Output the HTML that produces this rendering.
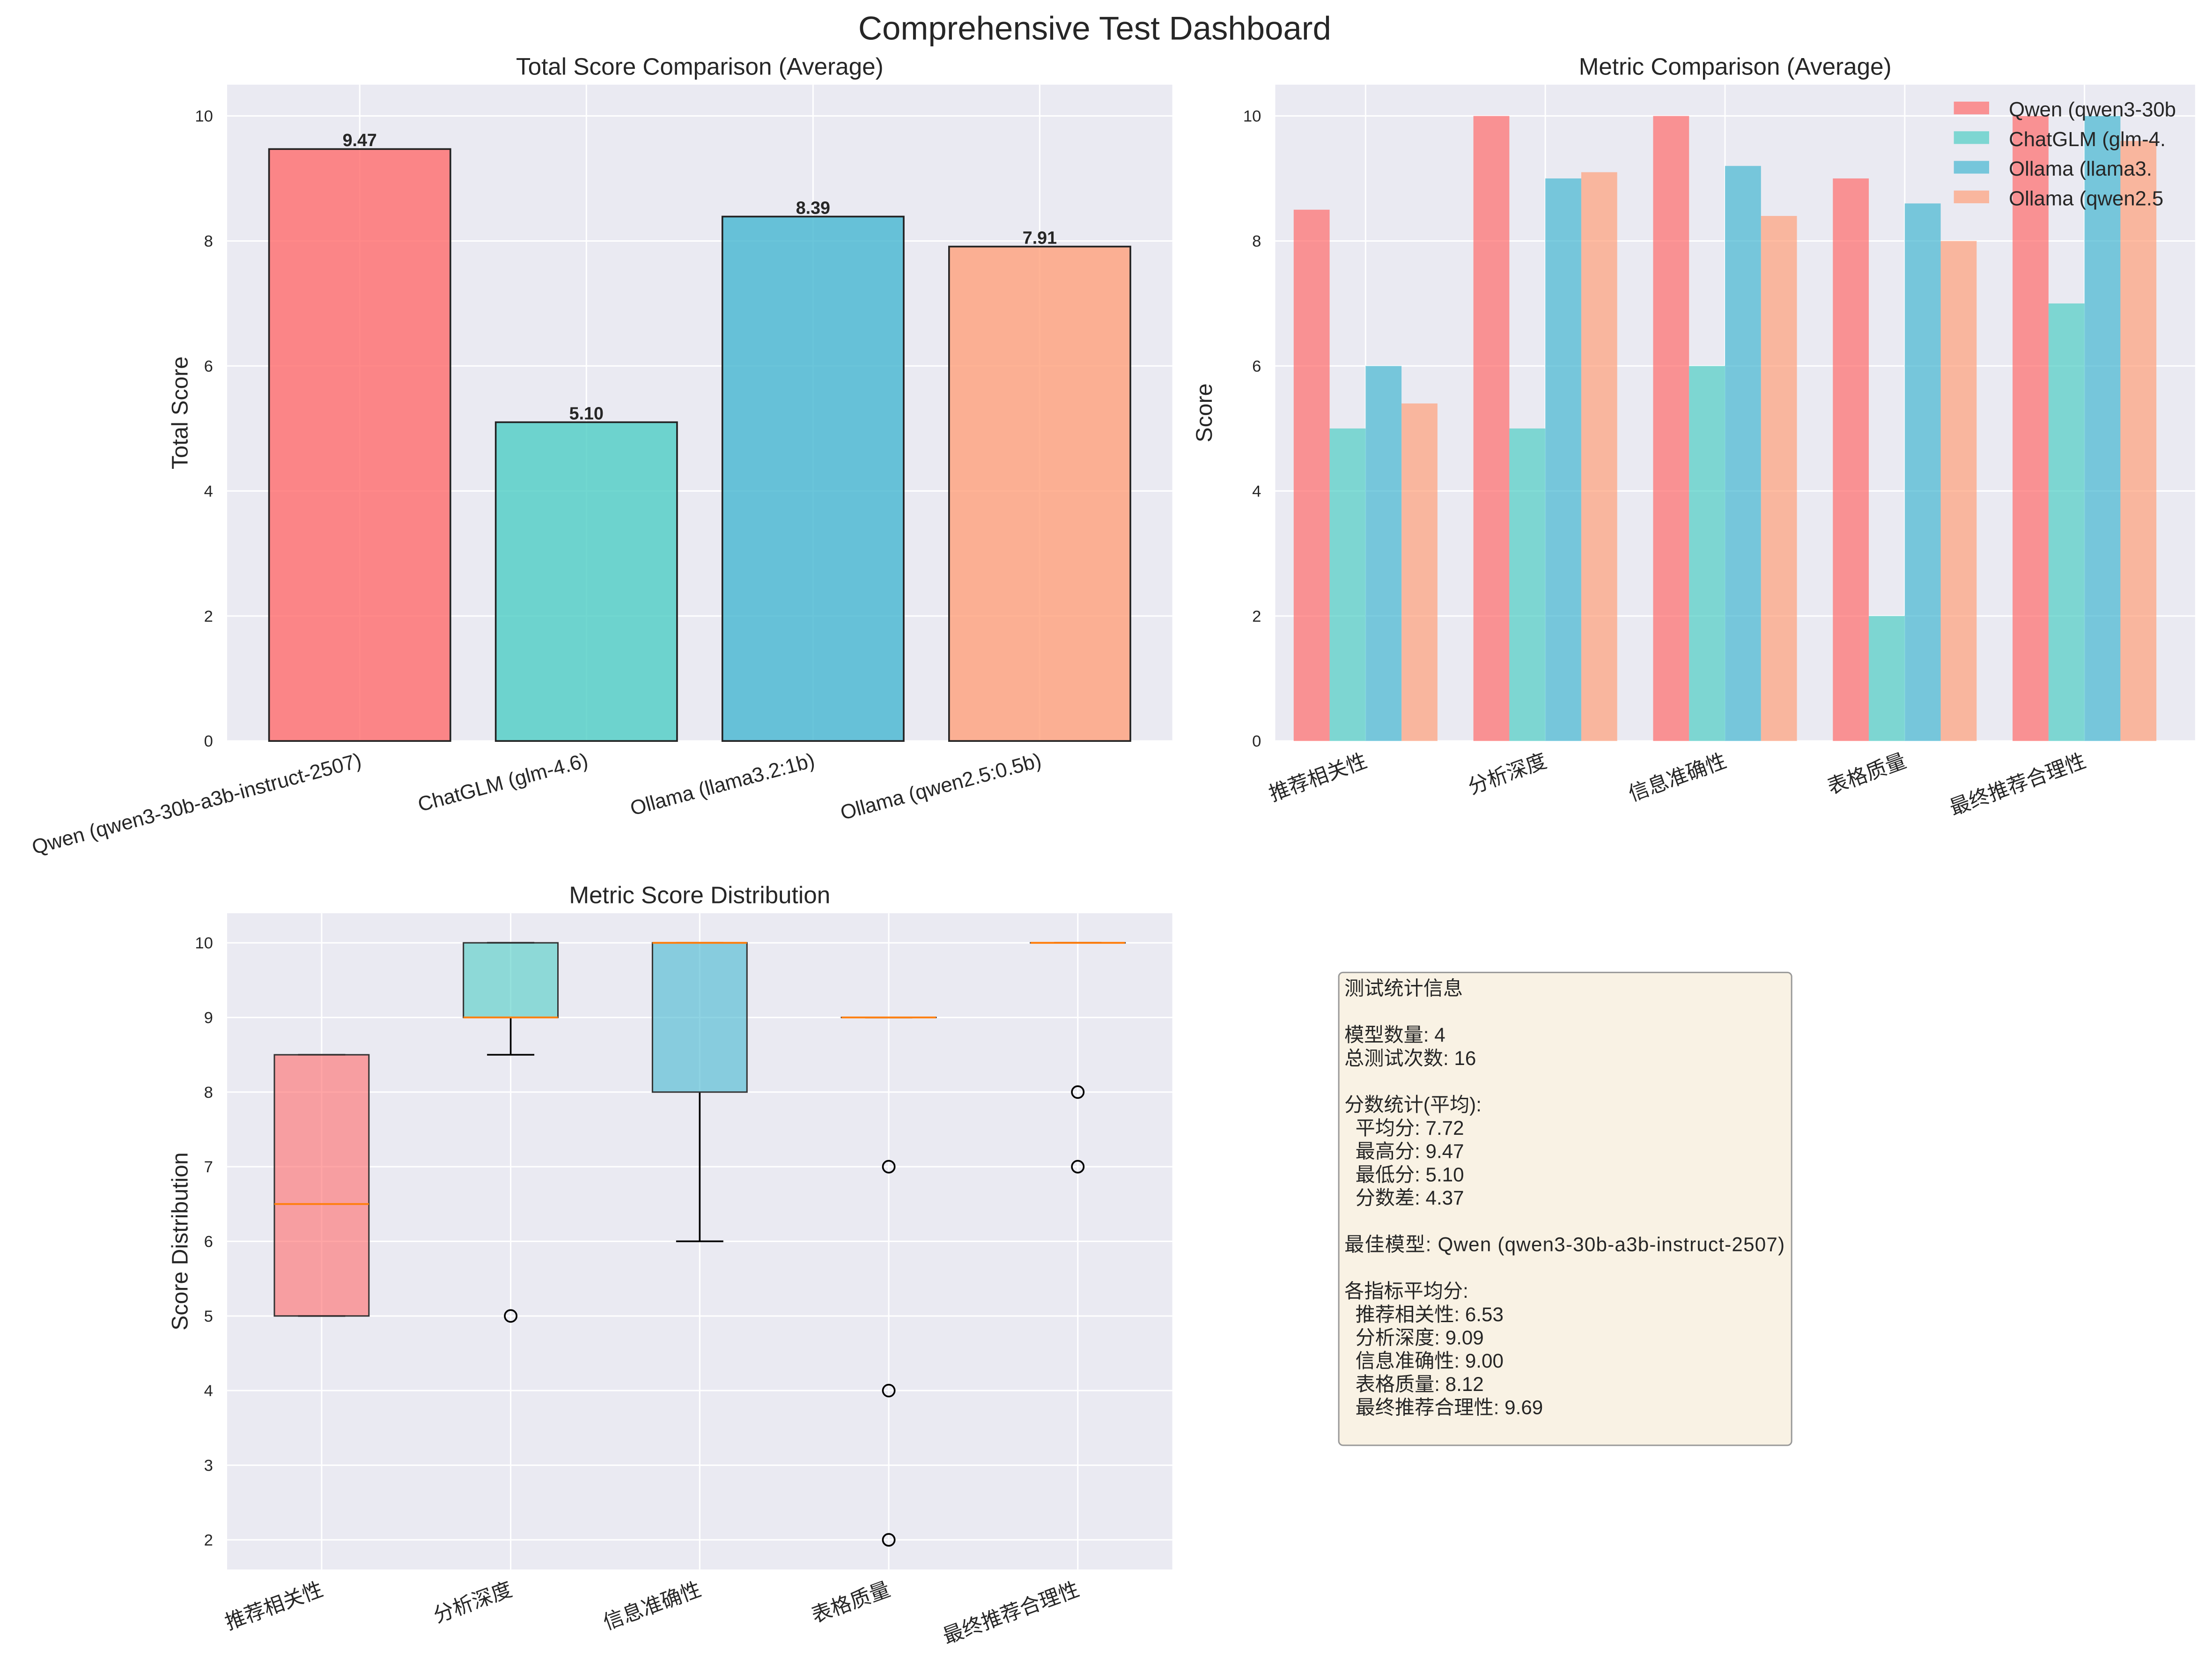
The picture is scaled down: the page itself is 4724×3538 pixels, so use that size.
<!DOCTYPE html>
<html><head><meta charset="utf-8">
<style>
html,body{margin:0;padding:0;background:#fff;}
svg{display:block;}
text{font-family:"Liberation Sans","Noto Sans CJK SC",sans-serif;fill:#262626;}
</style></head>
<body>
<svg id="chart" width="4724" height="3538" viewBox="0 0 1568 1174" preserveAspectRatio="none" xmlns="http://www.w3.org/2000/svg">
<rect width="1568" height="1174" fill="#fff"/>
<text x="776" y="28" text-anchor="middle" font-size="23.5">Comprehensive Test Dashboard</text>
<g id="p1"></g><g id="p2"></g><g id="p3"></g><g id="p4"></g>
</svg>
<script>
var models = ["Qwen (qwen3-30b-a3b-instruct-2507)","ChatGLM (glm-4.6)","Ollama (llama3.2:1b)","Ollama (qwen2.5:0.5b)"];
var totalScores = [9.47, 5.10, 8.39, 7.91];
var colors = ["#FF6B6B","#4ECDC4","#45B7D1","#FFA07A"];
var metrics = ["推荐相关性","分析深度","信息准确性","表格质量","最终推荐合理性"];
var legendLabels = ["Qwen (qwen3-30b","ChatGLM (glm-4.","Ollama (llama3.","Ollama (qwen2.5"];
var qwenMetric = [8.5, 10, 10, 9, 10];
var glmMetric = [5, 5, 6, 2, 7];
var llamaMetric = [6, 9, 9.2, 8.6, 10];
var qwen25Metric = [5.4, 9.1, 8.4, 8.0, 9.6];
var yTicks1 = [0,2,4,6,8,10];
var yTicks3 = [2,3,4,5,6,7,8,9,10];
var boxQ1 = [5, 9, 8, 9, 10];
var boxMed = [6.5, 9, 10, 9, 10];
var boxQ3 = [8.5, 10, 10, 9, 10];
var boxWLo = [5, 8.5, 6, 9, 10];
var boxWHi = [8.5, 10, 10, 9, 10];
var boxOutliers = [[], [5], [], [7,4,2], [8,7]];
var statsLines = ["测试统计信息","","模型数量: 4","总测试次数: 16","","分数统计(平均):","\u00a0\u00a0平均分: 7.72","\u00a0\u00a0最高分: 9.47","\u00a0\u00a0最低分: 5.10","\u00a0\u00a0分数差: 4.37","","最佳模型: Qwen (qwen3-30b-a3b-instruct-2507)","","各指标平均分:","\u00a0\u00a0推荐相关性: 6.53","\u00a0\u00a0分析深度: 9.09","\u00a0\u00a0信息准确性: 9.00","\u00a0\u00a0表格质量: 8.12","\u00a0\u00a0最终推荐合理性: 9.69"];

var NS="http://www.w3.org/2000/svg";
var LBL=14.5, TICK=11.5, TITLE=17, AXT=16;
function mk(parent,tag,attrs,txt){
  var e=document.createElementNS(NS,tag);
  for(var k in attrs){ e.setAttribute(k,String(attrs[k])); }
  if(txt!==undefined && txt!==null){ e.textContent=String(txt); }
  parent.appendChild(e);
  return e;
}
function rotLabel(g,txt,x,y,deg){
  var e=document.createElementNS(NS,'text');
  e.setAttribute('x','0');
  e.setAttribute('y','0');
  e.setAttribute('text-anchor','end');
  e.setAttribute('font-size',String(LBL));
  e.setAttribute('transform','translate('+x+','+y+') rotate('+deg+')');
  e.textContent=txt;
  g.appendChild(e);
  return e;
}

// ---------- Panel 1 ----------
try{
(function(){
var g=document.getElementById('p1');
var L=161,R=831,T=60,B=525;
function y(v){return B-(v/10.5)*(B-T);}
var pu=(R-L)/4.17;
function x(i){return L+(i+0.585)*pu;}
var bw=0.8*pu;
var bg=mk(g,'rect',{x:L,y:T,width:R-L,height:B-T,fill:'#eaeaf2'});


yTicks1.forEach(function(tk){
 mk(g,'line',{x1:L,x2:R,y1:y(tk),y2:y(tk),stroke:'#fff','stroke-width':1});
 var tx=mk(g,'text',{x:L-10,y:y(tk)+4,'text-anchor':'end','font-size':TICK},tk);
 
 
});
for(var i=0;i<models.length;i++){ mk(g,'line',{x1:x(i),x2:x(i),y1:T,y2:B,stroke:'#fff','stroke-width':1}); }
for(var j=0;j<totalScores.length;j++){
 var v=totalScores[j];
 var r=mk(g,'rect',{x:x(j)-bw/2,y:y(v),width:bw,height:B-y(v),fill:colors[j],'fill-opacity':0.8,stroke:'#222','stroke-width':1.2});
 
 
 var vl=mk(g,'text',{x:x(j),y:y(v)-2,'text-anchor':'middle','font-size':12.5,'font-weight':'bold'},v.toFixed(2));
 
 
 var lb=rotLabel(g,models[j],x(j)+2,B+18,-15);
 
 
}
var yt=mk(g,'text',{x:0,y:0,'text-anchor':'middle','font-size':AXT,transform:'translate(133,'+((T+B)/2)+') rotate(-90)'},'Total Score');


var tt=mk(g,'text',{x:(L+R)/2,y:53,'text-anchor':'middle','font-size':TITLE},'Total Score Comparison (Average)');


})();
}catch(e){console.log(e);}

// ---------- Panel 2 ----------
try{
(function(){
var g=document.getElementById('p2');
var L=904,R=1556,T=60,B=525;
function y(v){return B-(v/10.5)*(B-T);}
var u=127.4;
function x(c){return 968+c*u;}
var series=[qwenMetric,glmMetric,llamaMetric,qwen25Metric];
var bg=mk(g,'rect',{x:L,y:T,width:R-L,height:B-T,fill:'#eaeaf2'});


yTicks1.forEach(function(tk){
 mk(g,'line',{x1:L,x2:R,y1:y(tk),y2:y(tk),stroke:'#fff','stroke-width':1});
 var tx=mk(g,'text',{x:L-10,y:y(tk)+4,'text-anchor':'end','font-size':TICK},tk);
 
 
});
for(var i=0;i<metrics.length;i++){
 mk(g,'line',{x1:x(i),x2:x(i),y1:T,y2:B,stroke:'#fff','stroke-width':1});
 var lb=rotLabel(g,metrics[i],x(i)+2,B+18,-20);
 
 
}
for(var k=0;k<series.length;k++){
 for(var m=0;m<series[k].length;m++){
  var v=series[k][m];
  var r=mk(g,'rect',{x:x(m+(k-2)*0.2),y:y(v),width:0.2*u,height:B-y(v),fill:colors[k],'fill-opacity':0.7});
  
  
 }
}
for(var q=0;q<legendLabels.length;q++){
 var yy=78+q*21;
 var p=mk(g,'rect',{x:1385,y:yy-6,width:25,height:9,fill:colors[q],'fill-opacity':0.7});
 
 
 var lt=mk(g,'text',{x:1424,y:yy+4.5,'font-size':LBL},legendLabels[q]);
 
 
}
var yt=mk(g,'text',{x:0,y:0,'text-anchor':'middle','font-size':AXT,transform:'translate(859,'+((T+B)/2)+') rotate(-90)'},'Score');


var tt=mk(g,'text',{x:(L+R)/2,y:53,'text-anchor':'middle','font-size':TITLE},'Metric Comparison (Average)');


})();
}catch(e){console.log(e);}

// ---------- Panel 3 ----------
try{
(function(){
var g=document.getElementById('p3');
var L=161,R=831,T=647,B=1112;
function y(v){return 668+(10-v)*((1091-668)/8);}
function x(p){return L+(p-0.5)*((R-L)/5);}
var hw=0.25*(R-L)/5;
var bg=mk(g,'rect',{x:L,y:T,width:R-L,height:B-T,fill:'#eaeaf2'});


yTicks3.forEach(function(tk){
 mk(g,'line',{x1:L,x2:R,y1:y(tk),y2:y(tk),stroke:'#fff','stroke-width':1});
 var tx=mk(g,'text',{x:L-10,y:y(tk)+4,'text-anchor':'end','font-size':TICK},tk);
 
 
});
var boxColors=["#FF6B6B","#4ECDC4","#45B7D1","#FFA07A","#FF6B6B"];
for(var i=0;i<metrics.length;i++){
 var cx=x(i+1);
 mk(g,'line',{x1:cx,x2:cx,y1:T,y2:B,stroke:'#fff','stroke-width':1});
 mk(g,'line',{x1:cx,x2:cx,y1:y(boxWLo[i]),y2:y(boxQ1[i]),stroke:'#000','stroke-width':1.2});
 mk(g,'line',{x1:cx,x2:cx,y1:y(boxQ3[i]),y2:y(boxWHi[i]),stroke:'#000','stroke-width':1.2});
 mk(g,'line',{x1:cx-hw/2,x2:cx+hw/2,y1:y(boxWLo[i]),y2:y(boxWLo[i]),stroke:'#000','stroke-width':1.2});
 mk(g,'line',{x1:cx-hw/2,x2:cx+hw/2,y1:y(boxWHi[i]),y2:y(boxWHi[i]),stroke:'#000','stroke-width':1.2});
 var b=mk(g,'rect',{x:cx-hw,y:y(boxQ3[i]),width:2*hw,height:Math.max(0.01,y(boxQ1[i])-y(boxQ3[i])),fill:boxColors[i],'fill-opacity':0.6,stroke:'#333','stroke-width':1});
 
 
 mk(g,'line',{x1:cx-hw,x2:cx+hw,y1:y(boxMed[i]),y2:y(boxMed[i]),stroke:'#ff7f0e','stroke-width':1.3});
 for(var o=0;o<boxOutliers[i].length;o++){
  var c=mk(g,'circle',{cx:cx,cy:y(boxOutliers[i][o]),r:4.2,fill:'none',stroke:'#000','stroke-width':1.2});
  
  
 }
 var lb=rotLabel(g,metrics[i],cx+2,B+18,-20);
 
 
}
var yt=mk(g,'text',{x:0,y:0,'text-anchor':'middle','font-size':AXT,transform:'translate(133,'+((T+B)/2)+') rotate(-90)'},'Score Distribution');


var tt=mk(g,'text',{x:(L+R)/2,y:640,'text-anchor':'middle','font-size':TITLE},'Metric Score Distribution');


})();
}catch(e){console.log(e);}

// ---------- Panel 4 ----------
try{
(function(){
var g=document.getElementById('p4');
var box=mk(g,'rect',{x:949,y:689,width:321,height:335,rx:3,fill:'#f9f2e4',stroke:'#999','stroke-width':1});


for(var i=0;i<statsLines.length;i++){
 if(!statsLines[i]) continue;
 var t=mk(g,'text',{x:953,y:705+i*16.5,'font-size':14,textLength:(i===11?312:null)},statsLines[i]);
 if(i!==11) t.removeAttribute('textLength');
 
 
}
})();
}catch(e){console.log(e);}
</script>
</body></html>
